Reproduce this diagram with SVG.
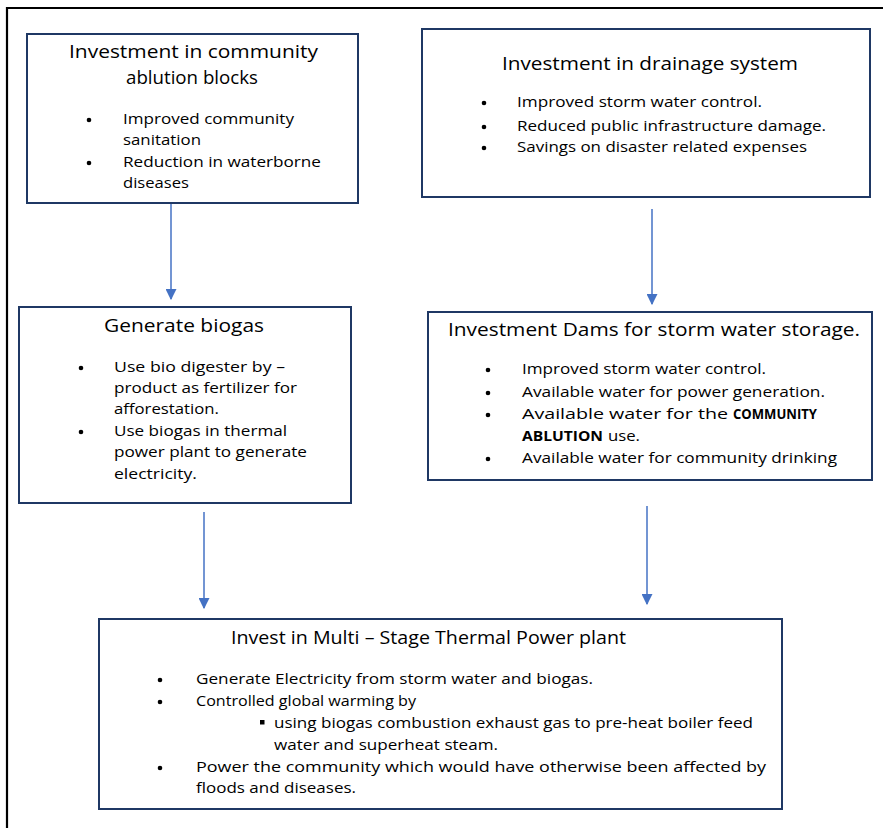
<svg xmlns="http://www.w3.org/2000/svg" width="883" height="828" viewBox="0 0 883 828">
  <defs>
    <style>
      .box { fill: #ffffff; stroke: #1f3864; stroke-width: 2; }
      .title { font-family: "Open Sans", "Liberation Sans", sans-serif; font-size: 17.5px; fill: #000000; }
      .body { font-family: "Open Sans", "Liberation Sans", sans-serif; font-size: 14px; fill: #000000; }
      .b { font-weight: bold; }
      .dot { fill: #000000; }
      .link { stroke: #4472c4; stroke-width: 1.5; fill: none; marker-end: url(#head); }
    </style>
    <marker id="head" viewBox="0 0 10 10" refX="9" refY="5" markerWidth="11" markerHeight="11" markerUnits="userSpaceOnUse" orient="auto">
      <path d="M0,0 L10,5 L0,10 Z" fill="#4472c4"/>
    </marker>
  </defs>

  <rect width="883" height="828" fill="#ffffff"/>
  <!-- outer frame -->
  <path d="M7,830 V8 H885" fill="none" stroke="#000000" stroke-width="2.2"/>

  <g id="connectors">
    <line class="link" x1="171" y1="204" x2="171" y2="299"/>
    <line class="link" x1="652" y1="209" x2="652" y2="304"/>
    <line class="link" x1="204" y1="512" x2="204" y2="608"/>
    <line class="link" x1="647" y1="506" x2="647" y2="604"/>
  </g>

  <g id="ablution">
    <rect class="box" x="27" y="34" width="331" height="169"/>
    <text class="title" x="69" y="58" textLength="249" lengthAdjust="spacingAndGlyphs">Investment in community</text>
    <text class="title" x="126" y="84" textLength="132" lengthAdjust="spacingAndGlyphs">ablution blocks</text>
    <circle class="dot" cx="89" cy="120" r="2.3"/>
    <circle class="dot" cx="89" cy="163" r="2.3"/>
    <text class="body" x="123" y="124" textLength="171" lengthAdjust="spacingAndGlyphs">Improved community</text>
    <text class="body" x="123" y="145" textLength="78" lengthAdjust="spacingAndGlyphs">sanitation</text>
    <text class="body" x="123" y="167" textLength="198" lengthAdjust="spacingAndGlyphs">Reduction in waterborne</text>
    <text class="body" x="123" y="188" textLength="66" lengthAdjust="spacingAndGlyphs">diseases</text>
  </g>

  <g id="drainage">
    <rect class="box" x="422" y="29" width="448" height="168"/>
    <text class="title" x="502" y="70" textLength="296" lengthAdjust="spacingAndGlyphs">Investment in drainage system</text>
    <circle class="dot" cx="484" cy="103" r="2.3"/>
    <circle class="dot" cx="484" cy="127" r="2.3"/>
    <circle class="dot" cx="484" cy="148" r="2.3"/>
    <text class="body" x="517" y="107" textLength="245" lengthAdjust="spacingAndGlyphs">Improved storm water control.</text>
    <text class="body" x="517" y="131" textLength="309" lengthAdjust="spacingAndGlyphs">Reduced public infrastructure damage.</text>
    <text class="body" x="517" y="152" textLength="290" lengthAdjust="spacingAndGlyphs">Savings on disaster related expenses</text>
  </g>

  <g id="biogas">
    <rect class="box" x="19" y="307" width="332" height="196"/>
    <text class="title" x="104" y="332" textLength="160" lengthAdjust="spacingAndGlyphs">Generate biogas</text>
    <circle class="dot" cx="81" cy="368" r="2.3"/>
    <circle class="dot" cx="81" cy="432" r="2.3"/>
    <text class="body" x="114" y="372" textLength="171" lengthAdjust="spacingAndGlyphs">Use bio digester by –</text>
    <text class="body" x="114" y="393" textLength="183" lengthAdjust="spacingAndGlyphs">product as fertilizer for</text>
    <text class="body" x="114" y="414" textLength="105" lengthAdjust="spacingAndGlyphs">afforestation.</text>
    <text class="body" x="114" y="436" textLength="173" lengthAdjust="spacingAndGlyphs">Use biogas in thermal</text>
    <text class="body" x="114" y="457" textLength="193" lengthAdjust="spacingAndGlyphs">power plant to generate</text>
    <text class="body" x="114" y="479" textLength="83" lengthAdjust="spacingAndGlyphs">electricity.</text>
  </g>

  <g id="dams">
    <rect class="box" x="428" y="312" width="444" height="168"/>
    <text class="title" x="448" y="336" textLength="412" lengthAdjust="spacingAndGlyphs">Investment Dams for storm water storage.</text>
    <circle class="dot" cx="488" cy="370" r="2.3"/>
    <circle class="dot" cx="488" cy="393" r="2.3"/>
    <circle class="dot" cx="488" cy="415" r="2.3"/>
    <circle class="dot" cx="488" cy="459" r="2.3"/>
    <text class="body" x="522" y="374" textLength="244" lengthAdjust="spacingAndGlyphs">Improved storm water control.</text>
    <text class="body" x="522" y="397" textLength="303" lengthAdjust="spacingAndGlyphs">Available water for power generation.</text>
    <text class="body" x="522" y="419" textLength="206" lengthAdjust="spacingAndGlyphs">Available water for the</text>
    <text class="body b" x="733" y="419" textLength="84" lengthAdjust="spacingAndGlyphs">COMMUNITY</text>
    <text class="body b" x="522" y="441" textLength="81" lengthAdjust="spacingAndGlyphs">ABLUTION</text>
    <text class="body" x="608" y="441" textLength="32" lengthAdjust="spacingAndGlyphs">use.</text>
    <text class="body" x="522" y="463" textLength="315" lengthAdjust="spacingAndGlyphs">Available water for community drinking</text>
  </g>

  <g id="power-plant">
    <rect class="box" x="99" y="619" width="683" height="190"/>
    <text class="title" x="231" y="644" textLength="395" lengthAdjust="spacingAndGlyphs">Invest in Multi – Stage Thermal Power plant</text>
    <circle class="dot" cx="160" cy="680" r="2.3"/>
    <circle class="dot" cx="160" cy="702" r="2.3"/>
    <rect class="dot" x="260" y="720" width="4.5" height="4.5"/>
    <circle class="dot" cx="160" cy="768" r="2.3"/>
    <text class="body" x="196" y="684" textLength="397" lengthAdjust="spacingAndGlyphs">Generate Electricity from storm water and biogas.</text>
    <text class="body" x="196" y="706" textLength="220" lengthAdjust="spacingAndGlyphs">Controlled global warming by</text>
    <text class="body" x="274" y="728" textLength="479" lengthAdjust="spacingAndGlyphs">using biogas combustion exhaust gas to pre-heat boiler feed</text>
    <text class="body" x="274" y="750" textLength="224" lengthAdjust="spacingAndGlyphs">water and superheat steam.</text>
    <text class="body" x="196" y="772" textLength="570" lengthAdjust="spacingAndGlyphs">Power the community which would have otherwise been affected by</text>
    <text class="body" x="196" y="793" textLength="160" lengthAdjust="spacingAndGlyphs">floods and diseases.</text>
  </g>
</svg>
